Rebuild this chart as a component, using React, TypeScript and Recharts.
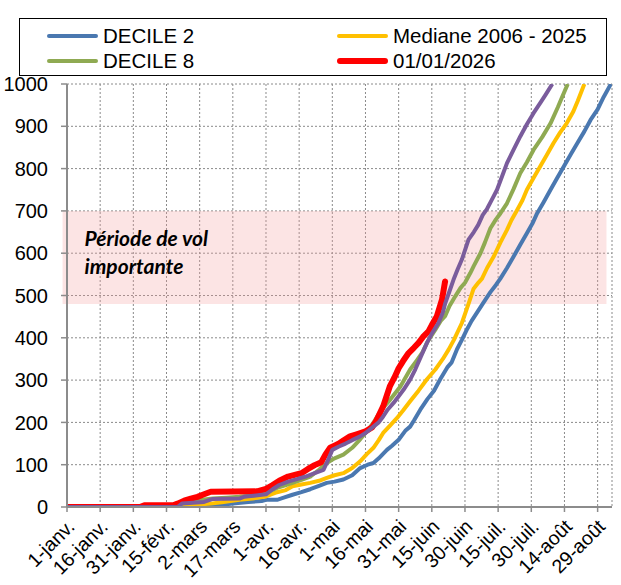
import React from 'react';
import {
  LineChart,
  Line,
  XAxis,
  YAxis,
  CartesianGrid,
  ReferenceArea,
} from 'recharts';

// day of year (0 = 1 janv.) -> cumulative value
const xTicks = [0, 15, 30, 45, 60, 75, 90, 105, 120, 135, 150, 165, 180, 195, 210, 225, 240];
const xTickLabels = [
  '1-janv.', '16-janv.', '31-janv.', '15-févr.', '2-mars', '17-mars', '1-avr.', '16-avr.',
  '1-mai', '16-mai', '31-mai', '15-juin', '30-juin', '15-juil.', '30-juil.', '14-août', '29-août',
];
const yTicks = [0, 100, 200, 300, 400, 500, 600, 700, 800, 900, 1000];

const decile2: [number, number][] = [
  [0, 0], [58, 0], [62, 3], [70, 5], [75, 8], [82, 12], [88, 14], [90, 17], [95, 17], [98, 22],
  [102, 29], [106, 35], [110, 42], [114, 50], [117.5, 57], [121, 60], [125, 65], [129, 75],
  [132.6, 92], [136, 100], [138.6, 104], [141, 115], [144.7, 135], [147, 145], [150, 159],
  [153, 180], [155.2, 190], [157, 205], [159.8, 230], [163, 255], [166, 275], [168.8, 302],
  [172, 330], [174, 342], [176.4, 373], [178.6, 395], [181, 421], [183, 440], [185.5, 460],
  [188, 480], [191.5, 508], [194, 525], [196, 540], [199, 565], [202, 592], [205, 620],
  [208, 647], [210.5, 670], [212.6, 694], [215.5, 720], [218.7, 750], [221.7, 778],
  [224.7, 805], [228, 835], [230.8, 860], [234, 888], [236.8, 915], [240, 940], [242.8, 970],
  [246, 1000],
];

const mediane: [number, number][] = [
  [0, 0], [52, 0], [57, 5], [65, 8], [70, 11], [78, 17], [84, 20], [90, 25], [95, 35], [99, 40],
  [102, 49], [106, 53], [110, 57], [114, 62], [117.5, 69], [121, 75], [125, 80], [129, 92],
  [132.6, 108], [135.6, 125], [138.6, 140], [141, 158], [143, 175], [146, 192], [149.2, 210],
  [152, 228], [155.2, 250], [159, 275], [162.8, 302], [166.6, 325], [170, 350], [172.6, 372],
  [175, 395], [178.6, 435], [181.6, 480], [183.9, 516], [186, 530], [187.7, 540], [190, 565],
  [193, 592], [196, 625], [199, 655], [201, 678], [203.6, 702], [206, 725], [208, 750],
  [211, 778], [214, 805], [217, 832], [220, 860], [223, 885], [226, 907], [229, 935],
  [231, 960], [234, 1000],
];

const decile8: [number, number][] = [
  [0, 0], [33, 0], [35, 5], [50, 5], [53, 10], [57, 15], [66, 20], [72, 22], [78, 24], [85, 28],
  [90, 33], [95, 45], [99, 52], [102, 57], [106, 64], [110, 72], [114, 88], [117.5, 104],
  [121, 115], [125, 124], [129, 140], [132.6, 160], [135, 175], [138.6, 199], [141, 220],
  [143, 235], [146.2, 254], [150.8, 285], [153, 305], [155.2, 325], [158, 345], [160.6, 364],
  [163, 390], [166.6, 419], [169, 440], [171, 451], [173, 475], [175.6, 498], [178, 518],
  [180, 530], [182.4, 553], [184, 570], [187, 600], [189, 625], [191.5, 659], [194, 680],
  [196, 694], [199, 718], [202, 752], [205, 789], [208, 815], [211, 844], [215, 875],
  [218.7, 907], [222, 945], [224, 970], [226.5, 1000],
];

const annee: [number, number][] = [
  [0, 0], [50, 0], [52, 8], [62, 12], [66, 19], [78, 20], [80, 24], [90, 30], [93, 42], [96, 52],
  [100, 60], [104, 66], [108, 72], [112, 80], [116, 88], [118, 110], [120, 135], [123, 143],
  [126, 150], [129, 158], [132.6, 167], [135, 175], [138.6, 190], [141, 200], [143, 214],
  [145, 230], [147.7, 246], [150, 262], [152.2, 277], [155.2, 301], [157.5, 325], [160, 355],
  [162.8, 388], [165, 410], [168, 435], [170, 460], [171.1, 482], [173, 510], [174.8, 537],
  [176.7, 562], [178.6, 585], [181.6, 632], [184, 650], [186, 667], [188, 690], [190, 705],
  [192, 725], [194.5, 750], [197, 785], [199, 813], [202, 845], [205, 876], [208, 905],
  [211, 931], [214, 955], [216.5, 975], [219.5, 1000],
];

const an2026: [number, number][] = [
  [0, 0], [33, 0], [35, 4], [48, 4], [50, 8], [53, 15], [56, 20], [59, 24], [62, 30], [65, 36],
  [86, 37], [88, 40], [90, 43], [93, 52], [96, 62], [100, 72], [103, 76], [106, 80], [109, 90],
  [112, 99], [115, 106], [117, 125], [119, 140], [121, 145], [123, 150], [125, 157], [128, 167],
  [131, 172], [135, 179], [138, 188], [140, 205], [143, 238], [146, 285], [148, 305],
  [150, 328], [152, 345], [154.5, 364], [157, 377], [159, 388], [161, 402], [163.5, 415],
  [165, 430], [167.3, 451], [169.6, 490], [171, 533],
];

const toRows = (pts: [number, number][]) => pts.map(([day, v]) => ({ day, v }));

const FONT = '"Liberation Sans", Arial, sans-serif';
const AXIS = '#8c8c8c';

function XTick({ x, y, payload }: any) {
  const i = xTicks.indexOf(payload.value);
  const cx = x + 4;
  const cy = y + 9;
  return (
    <text
      x={cx}
      y={cy}
      dy="0.35em"
      textAnchor="end"
      transform={`rotate(-45, ${cx}, ${cy})`}
      fontSize={19.5}
      fontFamily={FONT}
      fill="#000"
    >
      {xTickLabels[i]}
    </text>
  );
}

function BandLabel({ viewBox }: any) {
  const x = viewBox.x + 22;
  const y = viewBox.y;
  const st = { fontFamily: 'Lato, sans-serif', fontSize: 21, fontWeight: 700, fontStyle: 'italic', fill: '#000' };
  return (
    <g>
      <text x={x} y={y + 35} style={st}>Période de vol</text>
      <text x={x} y={y + 63} style={st}>importante</text>
    </g>
  );
}

const legendItems = [
  { name: 'DECILE 2', color: '#4a78b0', w: 4, left: 47, top: 36 },
  { name: 'Mediane 2006 - 2025', color: '#ffc000', w: 4, left: 337, top: 36 },
  { name: 'DECILE 8', color: '#8faa52', w: 4, left: 47, top: 61 },
  { name: '01/01/2026', color: '#ff0000', w: 6, left: 337, top: 61 },
];

export default function App() {
  return (
    <div style={{ position: 'absolute', left: 0, top: 0, width: 621, height: 585, background: '#fff', fontFamily: FONT }}>
      <LineChart width={621} height={585} margin={{ top: 84, right: 9, bottom: 0, left: 7 }}>
        <ReferenceArea
          x1={-2}
          x2={244}
          y1={480}
          y2={700}
          ifOverflow="visible"
          fill="#f59f9f"
          fillOpacity={0.28}
          stroke="none"
          label={<BandLabel />}
        />
        <CartesianGrid stroke="#8a8a8a" strokeDasharray="2 2" strokeWidth={1} />
        <XAxis
          type="number"
          dataKey="day"
          domain={[0, 246.5]}
          ticks={xTicks}
          interval={0}
          height={78}
          axisLine={{ stroke: AXIS, strokeWidth: 2 }}
          tickLine={{ stroke: AXIS, strokeWidth: 1.5 }}
          tickSize={5}
          tick={<XTick />}
          allowDataOverflow
        />
        <YAxis
          type="number"
          domain={[0, 1000]}
          ticks={yTicks}
          interval={0}
          width={60}
          axisLine={{ stroke: AXIS, strokeWidth: 2 }}
          tickLine={{ stroke: AXIS, strokeWidth: 1.5 }}
          tickSize={6}
          tickMargin={13}
          tick={{ fontSize: 20, fill: '#000', fontFamily: FONT }}
          allowDataOverflow
        />
        <Line data={toRows(decile2)} dataKey="v" type="linear" stroke="#4a78b0" strokeWidth={4} dot={false} isAnimationActive={false} strokeLinejoin="round" />
        <Line data={toRows(mediane)} dataKey="v" type="linear" stroke="#ffc000" strokeWidth={4} dot={false} isAnimationActive={false} strokeLinejoin="round" />
        <Line data={toRows(decile8)} dataKey="v" type="linear" stroke="#8faa52" strokeWidth={4} dot={false} isAnimationActive={false} strokeLinejoin="round" />
        <Line data={toRows(an2026)} dataKey="v" type="linear" stroke="#ff0000" strokeWidth={6} dot={false} isAnimationActive={false} strokeLinejoin="round" strokeLinecap="round" />
        <Line data={toRows(annee)} dataKey="v" type="linear" stroke="#7a5c9c" strokeWidth={4} dot={false} isAnimationActive={false} strokeLinejoin="round" />
      </LineChart>
      <div
        style={{
          position: 'absolute',
          left: 19,
          top: 18,
          width: 588,
          height: 58,
          border: '1.5px solid #000',
          boxSizing: 'border-box',
          background: '#fff',
        }}
      />
      {legendItems.map((it) => (
        <React.Fragment key={it.name}>
          <div
            style={{
              position: 'absolute',
              left: it.left,
              top: it.top - it.w / 2,
              width: 51,
              height: it.w,
              borderRadius: it.w / 2,
              background: it.color,
            }}
          />
          <div
            style={{
              position: 'absolute',
              left: it.left + 56,
              top: it.top - 12,
              fontSize: 20.5,
              lineHeight: '24px',
              color: '#000',
              whiteSpace: 'nowrap',
            }}
          >
            {it.name}
          </div>
        </React.Fragment>
      ))}
    </div>
  );
}
